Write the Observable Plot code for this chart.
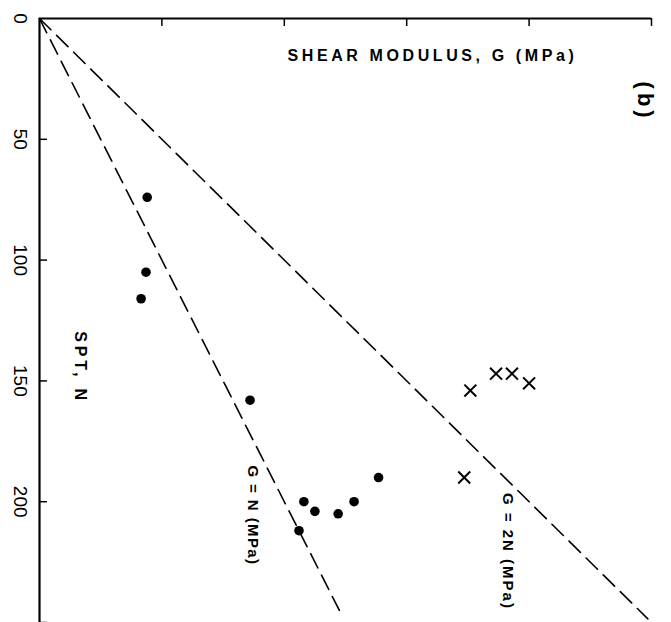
<!DOCTYPE html>
<html>
<head>
<meta charset="utf-8">
<script src="https://cdn.jsdelivr.net/npm/d3@7"></script>
<script src="https://cdn.jsdelivr.net/npm/@observablehq/plot@0.6"></script>
<style>
  html, body { margin: 0; padding: 0; background: #fff; }
  #chart svg { display: block; }
</style>
</head>
<body>
<div id="chart"></div>
<script>
// Filled circles
const circleG = [88, 87, 83, 172, 277, 216, 225, 244, 257, 212];
const circleN = [74, 105, 116, 158, 190, 200, 204, 205, 200, 212];
// Crosses
const crossG = [352, 373, 386, 400, 347];
const crossN = [154, 147, 147, 151, 190];
// Reference lines (endpoints)
const lineNG = [0, 245];
const lineNN = [0, 245];
const line2NG = [0, 497];
const line2NN = [0, 248.5];
// Ticks
const xTicks = [0, 100, 200, 300, 400, 500];
const yTicks = [0, 50, 100, 150, 200, 250];
const yTickLabels = ["0", "50", "100", "150", "200"];
const xTickLabels = ["100", "200", "300", "400", "500"];

const circles = circleG.map((g, i) => ({G: g, N: circleN[i]}));
const crosses = crossG.map((g, i) => ({G: g, N: crossN[i]}));
const line1 = lineNG.map((g, i) => ({G: g, N: lineNN[i]}));
const line2 = line2NG.map((g, i) => ({G: g, N: line2NN[i]}));

const font = "'Liberation Sans', Arial, sans-serif";

const chart = Plot.plot({
  width: 671,
  height: 622,
  marginTop: 18,
  marginLeft: 39,
  marginRight: 20,
  marginBottom: 0,
  style: {background: "#fff", fontFamily: font, color: "#000"},
  x: {domain: [0, 500], axis: null},
  y: {domain: [0, 250], reverse: true, axis: null},
  marks: [
    // axis lines
    Plot.ruleY([0], {stroke: "#000", strokeWidth: 2.2}),
    Plot.ruleX([0], {stroke: "#000", strokeWidth: 2.2}),
    // inward ticks
    Plot.ruleX(xTicks.slice(1), {x: d => d, y1: 0, y2: 0, insetBottom: -8, stroke: "#000", strokeWidth: 1.5}),
    Plot.ruleY(yTicks.slice(1), {y: d => d, x1: 0, x2: 0, insetRight: -8, stroke: "#000", strokeWidth: 1.5}),
    // tick labels
    Plot.text(yTickLabels, {x: 0, y: d => +d, text: d => d, rotate: 90, dx: -19, fontSize: 19, fill: "#000"}),
    Plot.text(xTickLabels, {x: d => +d, y: 0, text: d => d, rotate: 90, dx: 4, dy: -22, textAnchor: "end", fontSize: 19, fill: "#000"}),
    // reference lines
    Plot.line(line1, {x: "G", y: "N", stroke: "#000", strokeWidth: 1.6, strokeDasharray: "16,8"}),
    Plot.line(line2, {x: "G", y: "N", stroke: "#000", strokeWidth: 1.6, strokeDasharray: "16,8"}),
    // data
    Plot.dot(circles, {x: "G", y: "N", r: 4.8, fill: "#000", stroke: "none"}),
    Plot.dot(crosses, {x: "G", y: "N", symbol: "times", r: 5.5, stroke: "#000", strokeWidth: 2, fill: "none"}),
    // labels
    Plot.text(["SHEAR MODULUS, G (MPa)"], {x: 321, y: 15.3, text: d => d, fontSize: 16, fontWeight: "bold", fill: "#000"}),
    Plot.text(["(b)"], {x: 495, y: 34.4, text: d => d, rotate: 90, fontSize: 22, fontWeight: "bold", fill: "#000"}),
    Plot.text(["SPT, N"], {x: 33, y: 144.5, text: d => d, rotate: 90, fontSize: 16, fontWeight: "bold", fill: "#000"}),
    Plot.text(["G = N (MPa)"], {x: 174, y: 205.7, text: d => d, rotate: 90, fontSize: 15, fontWeight: "bold", fill: "#000"}),
    Plot.text(["G = 2N (MPa)"], {x: 383, y: 220.6, text: d => d, rotate: 90, fontSize: 15, fontWeight: "bold", fill: "#000"})
  ]
});

// letter spacing of the hand-lettered labels
const spacing = {
  "SHEAR MODULUS, G (MPa)": "3.6px",
  "SPT, N": "3.8px",
  "G = N (MPa)": "1.4px",
  "G = 2N (MPa)": "2px",
  "(b)": "4px"
};
d3.select(chart).selectAll("text").each(function () {
  const s = spacing[this.textContent];
  if (s) this.style.letterSpacing = s;
});
document.getElementById("chart").appendChild(chart);
</script>
</body>
</html>
